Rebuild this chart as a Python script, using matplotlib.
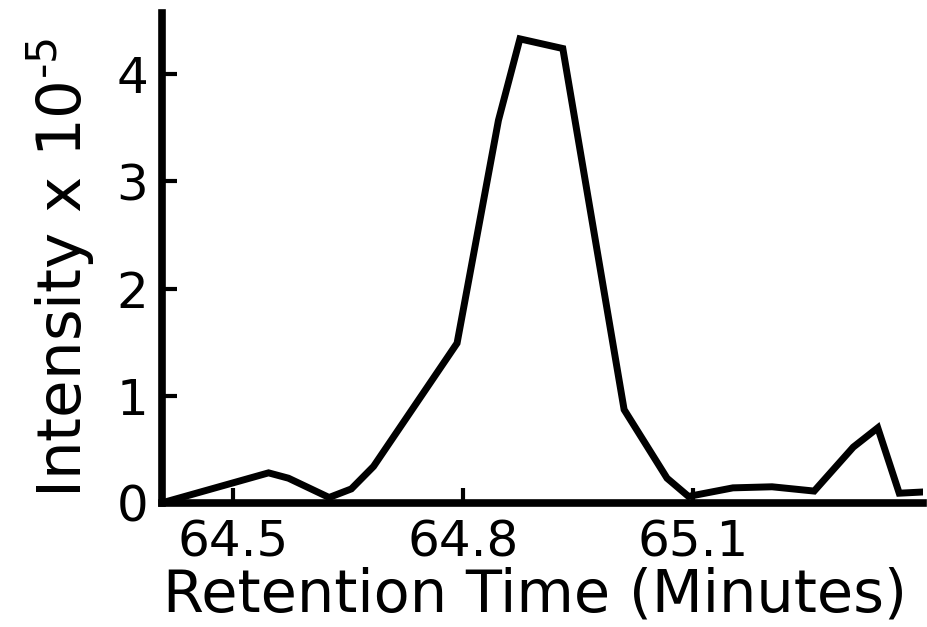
import matplotlib
matplotlib.use("Agg")
import matplotlib.pyplot as plt

# chromatogram trace (retention time in minutes, intensity in units of 1e5)
retention_time = [64.407, 64.546, 64.572, 64.625, 64.654, 64.683, 64.792, 64.846,
                  64.874, 64.930, 65.010, 65.066, 65.094, 65.152, 65.203, 65.258,
                  65.309, 65.341, 65.369, 65.396]
intensity = [0.0, 0.28, 0.23, 0.05, 0.13, 0.34, 1.49, 3.57,
             4.33, 4.24, 0.87, 0.23, 0.06, 0.14, 0.15, 0.11,
             0.52, 0.70, 0.09, 0.10]

x_ticks = [64.5, 64.8, 65.1]
y_ticks = [0, 1, 2, 3, 4]

fig = plt.figure(figsize=(9.28, 6.27), dpi=100)
ax = fig.add_axes([0.1746, 0.198, 0.820, 0.781])

ax.plot(retention_time, intensity, color="black", linewidth=5, solid_joinstyle="miter")

ax.set_xlim(64.407, 65.40)
ax.set_ylim(0, 4.57)
ax.set_xticks(x_ticks)
ax.set_xticklabels([str(t) for t in x_ticks])
ax.set_yticks(y_ticks)

# only the left and bottom axes, thick, ticks pointing inward
for side in ["top", "right"]:
    ax.spines[side].set_visible(False)
for side in ["left", "bottom"]:
    ax.spines[side].set_linewidth(5.5)
ax.tick_params(direction="in", length=11, width=3, labelsize=36)
ax.tick_params(axis="x", pad=11)
ax.tick_params(axis="y", pad=10)

ax.set_xlabel("Retention Time (Minutes)", fontsize=42.5, labelpad=0)
ax.xaxis.label.set_x(0.49)
ax.set_ylabel(r"Intensity x 10$^{\text{-5}}$", fontsize=44, labelpad=14)
ax.yaxis.label.set_y(0.48)

fig.savefig("out.png", dpi=100)
